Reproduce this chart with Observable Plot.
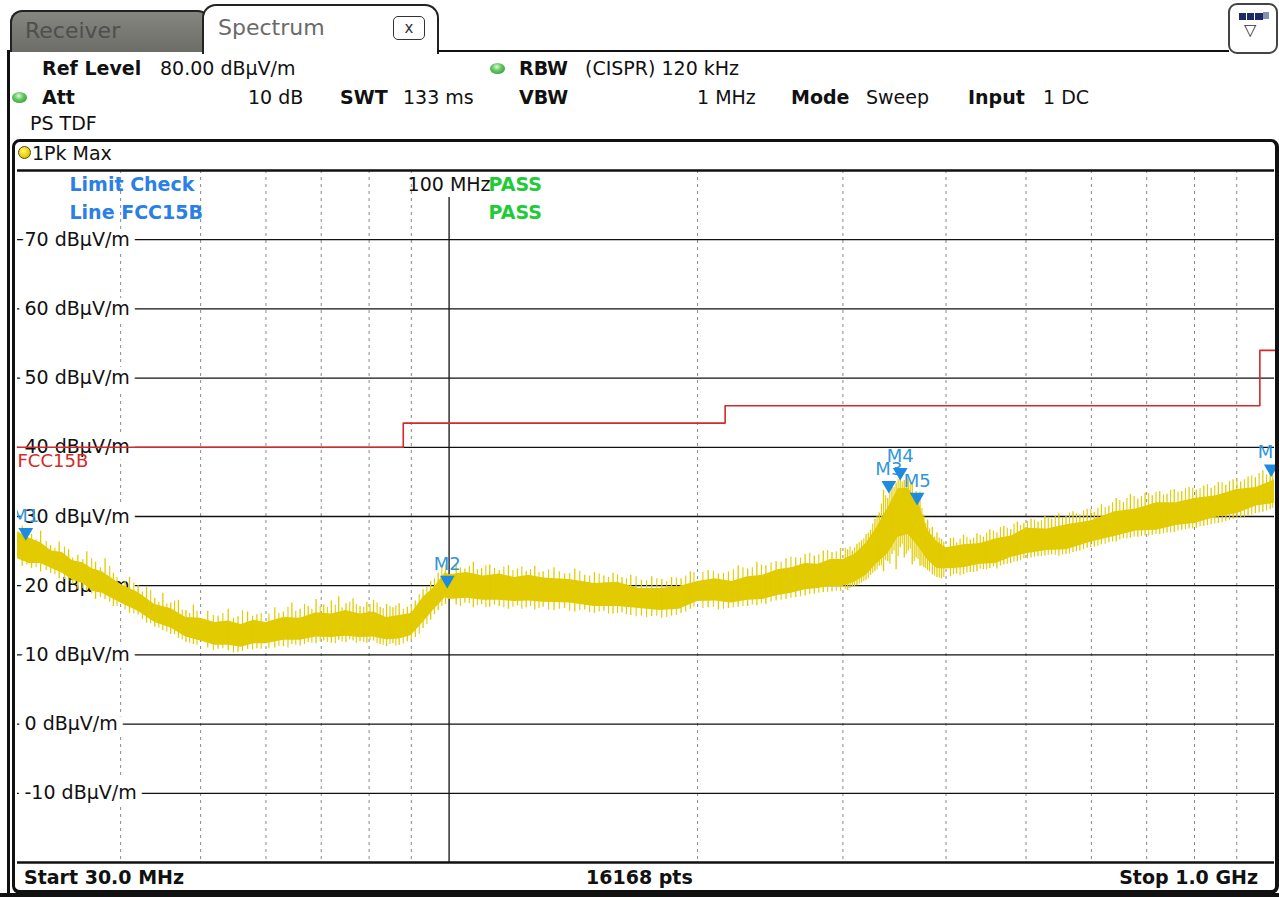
<!DOCTYPE html>
<html>
<head>
<meta charset="utf-8">
<script src="https://cdn.jsdelivr.net/npm/d3@7"></script>
<script src="https://cdn.jsdelivr.net/npm/@observablehq/plot@0.6"></script>
<style>
html,body{margin:0;padding:0;background:#fff;}
#screen{position:relative;width:1279px;height:897px;overflow:hidden;background:#fff;font-family:"DejaVu Sans",sans-serif;font-size:19px;color:#111;}
.a{position:absolute;white-space:nowrap;line-height:22px;}
.b{font-weight:bold;}
.led{position:absolute;width:15px;height:11px;border-radius:50%;background:radial-gradient(ellipse at 45% 35%,#e0f7d8 0%,#62c860 40%,#2a8a30 100%);}
#chart{position:absolute;left:0;top:168px;}
#chart svg{overflow:visible;}
</style>
</head>
<body>
<div id="screen">
  <!-- tabs -->
  <div class="a" style="left:10px;top:10px;width:196px;height:40px;border:2px solid #222;border-bottom:none;border-radius:12px 12px 0 0;background:linear-gradient(#858680,#6c6d67);"></div>
  <div class="a" style="left:25px;top:18px;font-size:22px;line-height:26px;color:#4e4e4c;">Receiver</div>
  <div class="a" style="left:202px;top:4px;width:233px;height:48px;border:2.5px solid #222;border-bottom:none;border-radius:14px 14px 0 0;background:#fff;"></div>
  <div class="a" style="left:218px;top:15px;font-size:22px;line-height:26px;color:#6a6a6a;">Spectrum</div>
  <div class="a" style="left:393px;top:16px;width:30px;height:22px;border:1.5px solid #333;border-radius:5px;font-size:15px;line-height:22px;text-align:center;color:#333;">x</div>
  <div class="a" style="left:437px;top:50px;width:792px;height:2px;background:#111;"></div>
  <div class="a" style="left:1228px;top:3px;width:46px;height:47px;border:2px solid #444;border-radius:9px;background:#fff;"></div>
  <div class="a" style="left:1238px;top:12px;width:8px;height:7px;background:#1d2a66;border:1px solid #fff;"></div>
  <div class="a" style="left:1246px;top:12px;width:8px;height:7px;background:#1d2a66;border:1px solid #fff;"></div>
  <div class="a" style="left:1254px;top:12px;width:8px;height:7px;background:#1d2a66;border:1px solid #fff;"></div>
  <div class="a" style="left:1263px;top:12px;width:6px;height:7px;background:#8890b0;"></div>
  <div class="a" style="left:1244px;top:22px;font-size:16px;line-height:16px;color:#333;">▽</div>
  <!-- outer borders -->
  <div class="a" style="left:7px;top:50px;width:3px;height:847px;background:#111;"></div>
  <div class="a" style="left:0px;top:893px;width:1279px;height:4px;background:#111;"></div>

  <!-- info rows -->
  <div class="a b" style="left:42px;top:57px;">Ref Level</div>
  <div class="a" style="left:160px;top:57px;">80.00 dBµV/m</div>
  <div class="led" style="left:490px;top:63px;"></div>
  <div class="a b" style="left:519px;top:57px;">RBW</div>
  <div class="a" style="left:585px;top:57px;">(CISPR) 120 kHz</div>

  <div class="led" style="left:12px;top:92px;"></div>
  <div class="a b" style="left:42px;top:86px;">Att</div>
  <div class="a" style="left:248px;top:86px;">10 dB</div>
  <div class="a b" style="left:340px;top:86px;">SWT</div>
  <div class="a" style="left:403px;top:86px;">133 ms</div>
  <div class="a b" style="left:519px;top:86px;">VBW</div>
  <div class="a" style="left:697px;top:86px;">1 MHz</div>
  <div class="a b" style="left:791px;top:86px;">Mode</div>
  <div class="a" style="left:866px;top:86px;">Sweep</div>
  <div class="a b" style="left:968px;top:86px;">Input</div>
  <div class="a" style="left:1043px;top:86px;">1 DC</div>

  <div class="a" style="left:30px;top:112px;">PS TDF</div>

  <!-- trace header row -->
  <div class="a" style="left:18px;top:146px;width:11px;height:11px;border-radius:50%;background:radial-gradient(circle at 40% 35%,#fff27a,#e8d000 60%,#b09a00);border:1.5px solid #5a4a00;"></div>
  <div class="a" style="left:32px;top:142px;">1Pk Max</div>

  <div id="chart"></div>

  <!-- footer -->
  <div class="a b" style="left:24px;top:866px;">Start 30.0 MHz</div>
  <div class="a b" style="left:586px;top:866px;">16168 pts</div>
  <div class="a b" style="left:1040px;top:866px;width:218px;text-align:right;">Stop 1.0 GHz</div>

  <!-- plot frame -->
  <div class="a" style="left:12px;top:139px;width:1260px;height:748px;border:3px solid #111;border-right-width:4px;border-bottom-width:4px;border-radius:8px;pointer-events:none;"></div>
</div>
<script>
// ---- data ----
// trace envelope: frequency (MHz), upper and lower edge of the peak-hold band (dBµV/m)
const freqMHz = [30,31,32,33,34,35,36,37,38,40,42,44,46,48,50,52,54,56,58,60,63,66,69,72,75,78,81,84,87,90,93,96,99,100,105,110,115,120,125,130,140,150,160,170,180,190,200,210,220,230,240,250,260,270,280,290,300,310,320,330,340,350,360,370,380,390,400,420,440,460,480,500,530,560,600,640,680,720,760,800,850,900,950,1000];
const traceHi = [27.8,26.9,26.2,25.0,24.8,23.6,23.3,22.4,22.0,20.2,19.0,17.3,16.7,15.4,15.3,14.7,14.9,14.4,15.0,14.7,15.4,15.3,16.1,15.9,16.4,15.9,16.2,15.4,15.7,16.0,18.3,19.8,21.9,21.6,21.9,21.4,21.7,21.2,21.5,21.1,20.9,20.3,20.5,19.6,19.6,19.9,20.6,21.0,20.6,21.3,21.5,22.3,22.6,23.2,23.1,23.8,23.8,24.5,26.1,28.5,31.2,34.0,34.1,32.2,28.0,26.4,25.5,25.9,26.1,26.8,27.2,28.3,28.2,28.8,29.4,30.7,31.1,32.0,32.0,32.6,33.0,33.9,34.2,35.3];
const traceLo = [23.9,23.2,23.2,22.5,21.8,20.8,20.3,19.2,18.9,17.5,16.3,14.7,13.9,12.6,12.0,11.4,11.4,11.1,11.6,11.6,12.1,12.1,12.6,12.5,12.7,12.5,12.6,12.2,12.3,12.8,14.7,16.6,18.3,18.0,18.2,17.9,17.9,17.7,17.8,17.6,17.5,17.0,17.0,16.7,16.4,16.6,17.7,17.8,17.5,17.9,18.0,18.6,18.9,19.4,19.6,19.9,19.9,20.5,21.5,23.2,24.6,27.0,27.4,25.7,23.7,22.5,22.4,22.6,23.1,23.2,24.1,24.6,25.1,25.2,26.3,27.1,27.9,28.0,28.7,29.0,29.9,30.4,31.5,31.9];

// noise spikes of the trace: frequency (MHz), lowest and highest level (dBµV/m)
const spikeFreq = [30.4,31.2,32.0,32.9,33.7,34.6,35.5,36.4,37.3,38.3,39.2,
  41,42,43,44,45,46,47,48,49,
  51,52.5,54,55.5,57,58.5,
  61.5,63,64.5,66,67.5,69,70.5,72,73.5,75,76.5,78,79.5,81,82.5,84,85.5,87,89,91,93,95,97,99,
  102,104.5,107,109.5,112,115,118,121,124,127,130,134,138,142,146,150,154,158,162,166,171,176,181,186,191,196,
  206,212,218,224,230,236,242,249,256,263,270,277,284,291,298,
  304,308,312,316,320,324,328,332,336,340,344,348,352,356,360,364,368,372,376,380,385,390,395,
  405,412,420,428,436,444,452,461,470,479,488,497,507,517,527,537,548,559,570,581,593,605,617,630,643,656,669,683,697,711,726,741,756,772,788,804,821,838,855,873,891,910,929,948,968,988];
const spikeLow = [22.8,22.5,22.0,21.8,21.0,20.6,19.5,19.2,18.0,18.0,17.0,
  16.0,15.8,14.6,14.0,13.5,13.0,12.4,11.8,11.5,
  11.0,10.8,10.6,10.4,10.8,10.9,
  11.0,11.2,11.5,11.3,11.8,11.6,12.0,11.7,12.1,11.8,12.0,11.9,11.7,12.0,11.5,11.2,11.6,11.4,11.9,12.5,13.8,15.0,16.4,17.3,
  17.2,17.5,16.8,17.3,16.9,17.0,16.6,17.1,16.8,16.5,16.9,16.4,16.7,16.2,16.5,16.0,16.3,15.9,16.1,15.7,15.6,15.5,15.3,15.6,16.0,16.6,
  16.8,16.5,16.7,16.9,17.0,17.1,17.3,17.8,18.0,18.3,18.5,18.8,19.0,19.1,19.2,
  19.3,19.8,20.0,20.4,20.8,21.5,22.0,22.8,22.0,23.5,24.5,22.3,25.5,24.0,25.0,23.0,24.0,22.8,22.6,22.2,21.6,21.2,21.0,
  21.3,21.7,21.6,21.9,22.0,22.3,22.5,22.4,23.0,23.2,23.5,23.9,24.0,24.2,24.3,24.5,24.3,24.5,24.8,25.0,25.4,25.6,25.9,26.2,26.3,26.8,26.9,27.0,27.2,27.3,27.4,27.6,27.7,28.0,28.2,28.3,28.6,28.8,29.0,29.3,29.6,29.8,30.1,30.4,30.6,31.0];
const spikeHigh = [28.6,27.4,27.9,25.8,26.3,25.2,24.4,24.9,23.4,23.9,21.8,
  21.2,20.0,19.8,18.2,18.9,17.5,17.9,16.4,17.2,
  16.3,15.6,16.6,15.5,16.2,15.8,
  16.8,16.2,17.5,16.6,17.0,18.0,17.2,17.8,18.4,17.4,18.1,17.0,17.6,17.9,16.9,17.3,16.8,17.4,16.9,17.8,19.4,20.6,21.8,23.0,
  23.0,22.4,23.4,22.5,23.0,22.2,22.9,22.4,22.1,22.8,22.0,22.6,21.7,22.4,21.5,21.9,21.4,21.8,21.2,21.5,20.8,21.3,20.9,21.2,21.0,22.0,
  22.2,21.7,22.0,22.9,22.4,23.4,22.9,23.5,23.9,24.0,24.5,24.3,25.0,24.8,25.4,
  25.2,25.0,26.0,26.5,27.4,28.0,29.6,30.5,33.8,32.6,35.0,34.8,36.0,35.2,35.5,34.6,33.6,33.5,30.2,29.5,28.4,27.6,26.7,
  26.8,26.2,27.3,26.6,27.5,27.0,28.1,27.6,28.6,28.1,29.2,29.0,29.6,29.2,30.0,29.6,30.4,30.0,30.7,30.2,31.0,30.6,31.7,31.5,32.6,32.0,33.2,32.5,33.4,33.0,33.6,33.2,33.9,33.6,34.2,33.8,34.4,34.1,34.9,34.5,35.3,35.0,35.7,35.6,36.6,36.2];

// finer noise spikes between the ones above: frequency (MHz), lowest and highest level (dBµV/m)
const fineFreq = [30.8,31.6,32.5,33.3,34.2,35.0,36.0,36.9,37.8,38.8,39.6,
  40.5,41.5,42.5,43.5,44.5,45.5,46.5,47.5,48.5,49.5,
  51.8,53.2,54.8,56.2,57.8,59.2,60.5,
  62.2,63.8,65.2,66.8,68.2,69.8,71.2,72.8,74.2,75.8,77.2,78.8,80.2,81.8,83.2,84.8,86.2,88,90,92,94,96,98,
  103.2,105.8,108.2,110.8,113.5,116.5,119.5,122.5,125.5,128.5,132,136,140,144,148,152,156,160,164,168.5,173.5,178.5,183.5,188.5,193.5,198,
  203,209,215,221,227,233,239,245.5,252.5,259.5,266.5,273.5,280.5,287.5,294.5,
  302,306,310,314,318,322,326,330,334,338,342,346,350,354,358,362,366,370,374,378,382,387.5,392.5,397.5,
  408.5,416,424,432,440,448,456.5,465.5,474.5,483.5,492.5,502,512,522,532,542.5,553.5,564.5,575.5,587,599,611,623.5,636.5,649.5,662.5,676,690,704,718.5,733.5,748.5,764,780,796,812.5,829.5,846.5,864,882,900.5,919.5,938.5,958,978,995];
const fineLow = [23.0,22.6,22.2,21.6,20.9,20.2,19.6,18.8,18.3,17.6,17.0,
  16.5,15.9,15.1,14.5,13.9,13.3,12.9,12.2,11.7,11.4,
  10.6,10.9,10.3,10.5,10.7,10.8,10.9,
  11.2,11.0,11.4,11.5,11.7,11.9,11.8,11.6,11.9,12.2,11.7,11.8,12.1,11.6,11.4,11.5,11.3,11.6,12.0,13.0,14.4,15.8,17.0,
  17.0,17.4,17.1,16.8,17.2,16.8,16.9,16.6,17.0,16.7,16.5,16.6,16.3,16.4,16.1,16.2,15.9,16.0,15.8,15.5,15.4,15.6,15.4,15.7,16.2,16.9,
  16.7,16.9,16.6,16.8,17.0,17.2,17.4,17.6,17.9,18.2,18.4,18.7,18.9,19.0,19.2,
  19.5,19.6,19.9,20.2,20.6,21.0,21.8,22.3,22.9,23.6,23.1,25.0,24.2,26.0,24.5,25.3,23.5,23.8,22.9,22.5,22.0,21.4,21.1,21.2,
  21.6,21.4,21.8,21.9,22.4,22.3,22.7,22.8,23.1,23.4,23.6,23.9,24.1,24.2,24.4,24.4,24.4,24.6,24.9,25.2,25.5,25.7,26.0,26.3,26.6,26.8,27.0,27.1,27.2,27.4,27.5,27.6,27.9,28.1,28.2,28.5,28.7,28.9,29.1,29.4,29.7,29.9,30.2,30.5,30.8,31.2];
const fineHigh = [27.9,26.6,26.4,25.4,25.6,24.0,23.8,23.9,22.6,22.8,21.2,
  20.6,20.4,19.1,19.3,17.6,17.4,17.8,16.5,16.0,16.3,
  15.7,16.0,15.3,16.4,15.6,16.0,15.9,
  16.0,16.9,16.3,17.3,16.6,17.0,16.9,17.2,16.8,17.6,17.3,16.9,17.2,17.5,16.7,17.0,17.1,16.6,17.3,18.7,19.8,21.0,22.6,
  22.6,22.8,22.3,22.9,22.5,22.7,22.2,22.7,22.3,21.9,22.3,22.0,21.8,22.1,21.4,21.7,21.2,21.6,21.0,21.3,20.7,21.0,20.6,21.1,21.4,21.9,
  21.9,22.1,21.8,22.3,22.6,22.6,23.0,23.3,23.4,24.1,24.0,24.7,24.5,25.1,24.9,
  25.4,25.6,25.5,26.2,26.8,27.6,28.9,30.0,31.8,33.0,33.9,34.2,35.3,35.0,34.4,34.9,33.2,32.4,31.2,29.0,28.2,27.0,26.9,26.3,
  26.9,26.7,27.0,26.9,27.3,27.6,27.9,28.4,28.3,28.9,28.7,29.3,29.5,29.4,29.9,30.1,29.8,30.5,30.4,30.8,31.0,31.2,31.3,32.0,32.3,32.6,32.9,32.9,33.3,33.5,33.1,33.8,33.5,34.0,34.1,34.0,34.6,34.4,34.9,35.1,35.4,35.3,35.9,36.2,36.0,36.4];

// FCC 15B limit line (step changes)
const limitFreq  = [30, 88, 216, 960, 1000];
const limitLevel = [40, 43.5, 46, 54, 54];

// markers
const markerNames = ["M1","M2","M3","M4","M5","M6"];
const markerFreq  = [30.7, 99.5, 341, 352, 369, 991];
const markerLevel = [26.6, 19.7, 33.4, 35.3, 31.7, 35.8];

// axes / grid
const levelTicks = [-10, 0, 10, 20, 30, 40, 50, 60, 70];
const levelUnit = "dBµV/m";
const freqDashed = [40, 50, 60, 70, 80, 90, 200, 300, 400, 500, 600, 700, 800, 900];
const freqSolid = [100];
const freqSolidLabel = ["100 MHz"];
const freqRange = [30, 1000];
const levelRange = [-20, 80];
const limitName = "FCC15B";

// ---- tables built from the arrays ----
const trace = freqMHz.map((f, i) => ({f, hi: traceHi[i], lo: traceLo[i]}));
const spikes = spikeFreq.map((f, i) => ({f, lo: spikeLow[i], hi: spikeHigh[i]}));
const fine = fineFreq.map((f, i) => ({f, lo: fineLow[i], hi: fineHigh[i]}));
const limit = limitFreq.map((f, i) => ({f, v: limitLevel[i]}));
const markers = markerNames.map((n, i) => ({n, f: markerFreq[i], v: markerLevel[i]}));
const levelLabels = levelTicks.map(v => ({v, label: `${v} ${levelUnit}`}));

const yellow = "#e2cb00";
const blue = "#1d8ce0";
const downTri = {
  draw(ctx, size) {
    const s = Math.sqrt(size) / 1.2;
    ctx.moveTo(-s, -s * 0.8);
    ctx.lineTo(s, -s * 0.8);
    ctx.lineTo(0, s * 0.9);
    ctx.closePath();
  }
};

const chart = Plot.plot({
  width: 1279,
  height: 696,
  marginLeft: 17,
  marginRight: 5,
  marginTop: 2,
  marginBottom: 2,
  x: {type: "log", domain: freqRange, axis: null},
  y: {domain: levelRange, axis: null},
  style: {fontFamily: "DejaVu Sans, sans-serif", fontSize: "19px", background: "transparent", overflow: "visible"},
  marks: [
    Plot.ruleX(freqDashed, {stroke: "#8a8a8a", strokeWidth: 1, strokeDasharray: "3,4"}),
    Plot.ruleY(levelTicks, {stroke: "#111", strokeWidth: 1.3}),
    Plot.ruleX(freqSolid, {y1: levelRange[0], y2: 76.1, stroke: "#111", strokeWidth: 1.3}),
    Plot.ruleY(levelRange, {stroke: "#111", strokeWidth: 2.5}),
    Plot.text(levelLabels, {x: () => freqRange[0], y: "v", text: "label", textAnchor: "start", dx: 7, fill: "#111", stroke: "white", strokeWidth: 13, fontSize: 19}),
    Plot.text(freqSolidLabel, {x: () => freqSolid[0], frameAnchor: "top", lineAnchor: "middle", dy: 14, text: d => d, fill: "#111", fontSize: 19}),
    Plot.text(["Limit Check"], {frameAnchor: "top-left", lineAnchor: "middle", dx: 52, dy: 14, text: d => d, textAnchor: "start", fill: "#2a80e4", fontWeight: "bold", fontSize: 19}),
    Plot.text([`Line ${limitName}`], {frameAnchor: "top-left", lineAnchor: "middle", dx: 52, dy: 42, text: d => d, textAnchor: "start", fill: "#2a80e4", fontWeight: "bold", fontSize: 19}),
    Plot.text(["PASS"], {frameAnchor: "top-left", lineAnchor: "middle", dx: 471, dy: 14, text: d => d, textAnchor: "start", fill: "#1fcc38", fontWeight: "bold", fontSize: 19}),
    Plot.text(["PASS"], {frameAnchor: "top-left", lineAnchor: "middle", dx: 471, dy: 42, text: d => d, textAnchor: "start", fill: "#1fcc38", fontWeight: "bold", fontSize: 19}),
    Plot.line(limit, {x: "f", y: "v", curve: "step-after", stroke: "#d42a2a", strokeWidth: 1.6}),
    Plot.text([limitName], {x: () => limitFreq[0], y: () => limitLevel[0], dy: 14, text: d => d, textAnchor: "start", fill: "#d42a2a", fontSize: 18}),
    Plot.areaY(trace, {x: "f", y1: "lo", y2: "hi", fill: yellow}),
    Plot.ruleX(spikes, {x: "f", y1: "lo", y2: "hi", stroke: yellow, strokeWidth: 1.3}),
    Plot.ruleX(fine, {x: "f", y1: "lo", y2: "hi", stroke: yellow, strokeWidth: 1.1}),
    Plot.text(markers, {x: "f", y: "v", text: "n", dy: -24, fill: "#3196da", fontSize: 18, clip: true}),
    Plot.dot(markers, {x: "f", y: "v", symbol: downTri, r: 5, fill: blue, dy: -6}),
  ]
});
document.getElementById("chart").appendChild(chart);
</script>
</body>
</html>
